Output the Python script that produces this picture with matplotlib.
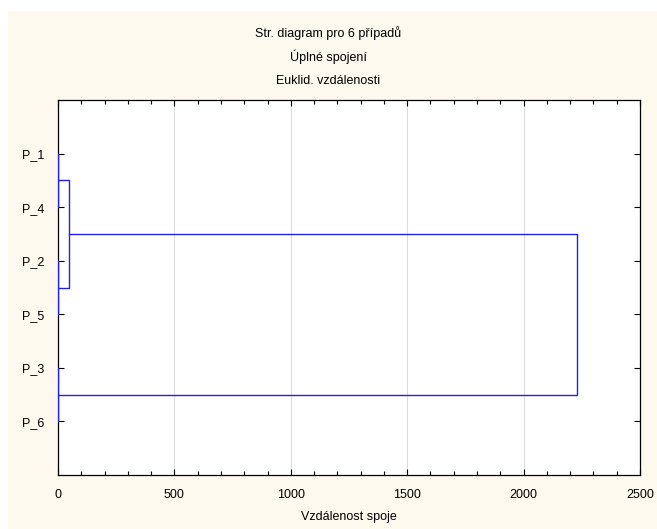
import matplotlib.pyplot as plt
from matplotlib.patches import Rectangle
from matplotlib.ticker import MultipleLocator

plt.rcParams['font.family'] = ['Liberation Sans', 'DejaVu Sans']

# listy v poradi na ose y (shora dolu)
labels = ['P_1', 'P_4', 'P_2', 'P_5', 'P_3', 'P_6']

# spojeni: (levy shluk, pravy shluk, vzdalenost); shluky 0-5 jsou listy, dalsi se cisluji od 6
merges = [
    (0, 1, 1),
    (2, 3, 1),
    (4, 5, 1),
    (6, 7, 47),
    (9, 8, 2230),
]

fig = plt.figure(figsize=(6.57, 5.29), dpi=100, facecolor='white')
fig.patches.append(Rectangle((8 / 657, 0), 1, (529 - 11) / 529,
                             transform=fig.transFigure, facecolor='#FDF9EE',
                             edgecolor='none', zorder=-10))
ax = fig.add_axes([58 / 657, (529 - 475) / 529, (640 - 58) / 657, (475 - 100) / 529])
ax.set_facecolor('white')

# pozice a vyska kazdeho shluku
pos = {i: i + 1 for i in range(len(labels))}
height = {i: 0 for i in range(len(labels))}
for k, (a, b, d) in enumerate(merges):
    ya, yb = pos[a], pos[b]
    ax.plot([height[a], d, d, height[b]], [ya, ya, yb, yb], color='#2020F0', lw=1, zorder=3)
    new = len(labels) + k
    pos[new] = (ya + yb) / 2
    height[new] = d

ax.set_xlim(0, 2500)
ax.set_ylim(7, 0)
ax.set_yticks(range(1, len(labels) + 1))
ax.set_yticklabels(labels)
ax.xaxis.set_major_locator(MultipleLocator(500))
ax.xaxis.set_minor_locator(MultipleLocator(100))
ax.tick_params(axis='both', which='both', direction='in', top=True, right=True,
               labelsize=9, width=0.8, pad=10)
ax.tick_params(axis='x', which='major', length=4)
ax.tick_params(axis='x', which='minor', length=3)
ax.tick_params(axis='y', length=4, pad=10)
ax.grid(axis='x', which='major', color='#DDDDDD', lw=0.8)
ax.set_axisbelow(True)
for s in ax.spines.values():
    s.set_linewidth(0.9)

fig.text(0.5, 1 - 33 / 529, 'Str. diagram pro 6 případů', ha='center', va='center', fontsize=9)
fig.text(0.5, 1 - 57 / 529, 'Úplné spojení', ha='center', va='center', fontsize=9)
fig.text(0.5, 1 - 81 / 529, 'Euklid. vzdálenosti', ha='center', va='center', fontsize=9)
fig.text((58 + 640) / 2 / 657, 1 - 517 / 529, 'Vzdálenost spoje', ha='center', va='center', fontsize=9)

fig.savefig('out.png', dpi=100, facecolor=fig.get_facecolor())
